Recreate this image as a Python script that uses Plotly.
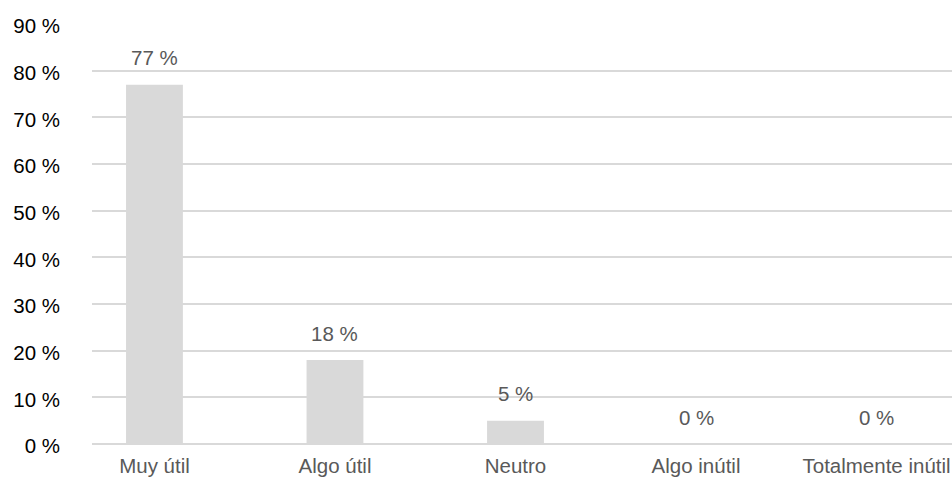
import plotly.graph_objects as go

categories = ["Muy útil", "Algo útil", "Neutro", "Algo inútil", "Totalmente inútil"]
percentages = [77, 18, 5, 0, 0]
y_ticks = [0, 10, 20, 30, 40, 50, 60, 70, 80, 90]
y_tick_labels = [f"{v} %" for v in y_ticks]

FONT = "Liberation Sans, Arial, sans-serif"
GRID = "#d9d9d9"
SIZE = 20.5

fig = go.Figure(
    go.Bar(
        x=categories,
        y=percentages,
        marker=dict(color="#d9d9d9", line=dict(width=0)),
        hoverinfo="skip",
    )
)

# value labels above each bar
for cat, val in zip(categories, percentages):
    fig.add_annotation(
        x=cat, y=val, text=f"{val} %", showarrow=False,
        yanchor="middle", yshift=27,
        font=dict(family=FONT, size=SIZE, color="#595959"),
    )

fig.update_layout(
    width=952, height=479,
    margin=dict(l=92, r=0, t=24, b=35),
    paper_bgcolor="white", plot_bgcolor="white",
    bargap=0.685,
    showlegend=False,
    font=dict(family=FONT, size=SIZE),
    xaxis=dict(
        type="category",
        range=[-0.346, 4.418],
        automargin=False,
        showgrid=False, zeroline=False, showline=False,
        ticks="", ticklabelstandoff=7,
        tickfont=dict(family=FONT, size=SIZE, color="#595959"),
    ),
    yaxis=dict(
        range=[0, 90],
        automargin=False,
        tickvals=y_ticks, ticktext=y_tick_labels,
        showgrid=True, gridcolor=GRID, gridwidth=2,
        zeroline=True, zerolinecolor=GRID, zerolinewidth=2,
        showline=False, ticks="",
        ticklabelstandoff=31, ticklabelshift=2,
        tickfont=dict(family=FONT, size=SIZE, color="#000000"),
    ),
)

fig.write_html("out.html")
